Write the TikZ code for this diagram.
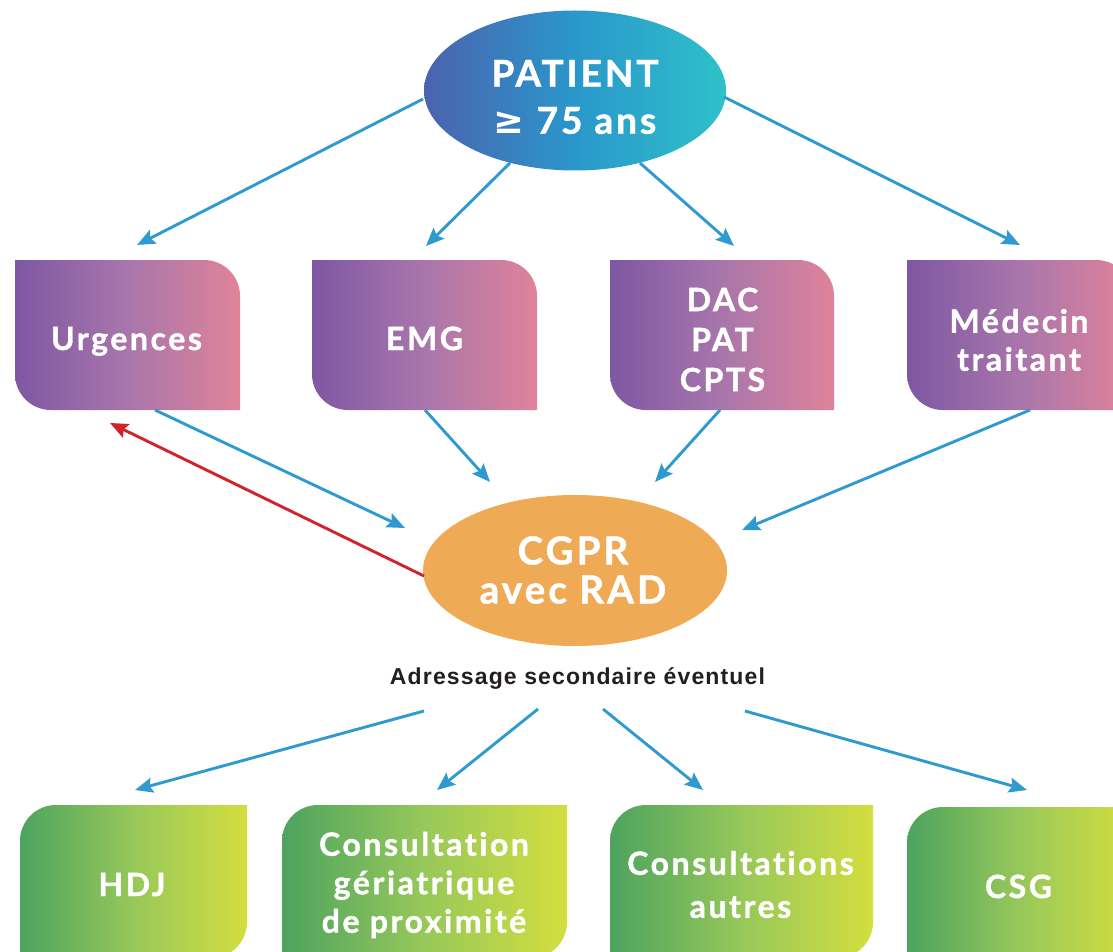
\documentclass[tikz,border=0pt]{standalone}
\usepackage{fontspec}
\setmainfont{Lato}[LetterSpace=8, Ligatures=NoCommon, BoldFeatures={FakeBold=1.2}]
\newfontfamily\helv{Liberation Sans}[LetterSpace=5]
\newfontfamily\symf{DejaVu Sans}
\usetikzlibrary{shapes.geometric,arrows.meta,calc}
\definecolor{pL}{HTML}{7E57A3}
\definecolor{pM}{HTML}{A876AB}
\definecolor{pR}{HTML}{E0839A}
\definecolor{gL}{HTML}{4DA35F}
\definecolor{gM}{HTML}{97C85A}
\definecolor{gR}{HTML}{D3DE3F}
\definecolor{bL}{HTML}{4B62AF}
\definecolor{bM}{HTML}{2A97CB}
\definecolor{bR}{HTML}{2EC1C9}
\definecolor{org}{HTML}{EFAA55}
\definecolor{arrb}{HTML}{2E9AD0}
\definecolor{arrr}{HTML}{D2232A}
\definecolor{txtk}{HTML}{231F20}
\tikzset{
  btxt/.style={text=white, inner sep=0pt, align=center, font=\bfseries\fontsize{32}{40}\selectfont},
  boxn/.style={rectangle, inner sep=0pt, minimum width=#1, minimum height=150pt},
  pgrad/.style={left color=pL, right color=pR, middle color=pM},
  ggrad/.style={left color=gL, right color=gR, middle color=gM},
  pshape/.style n args={4}{insert path={(#1,#2) -- ({#3-36},#2) .. controls ({#3-16},#2) and (#3,{#2+16}) .. (#3,{#2+36}) -- (#3,#4) -- ({#1+36},#4) .. controls ({#1+16},#4) and (#1,{#4-16}) .. (#1,{#4-36}) -- cycle}},
  gshape/.style n args={4}{insert path={(#1,{#2+36}) .. controls (#1,{#2+16}) and ({#1+16},#2) .. ({#1+36},#2) -- (#3,#2) -- (#3,{#4-36}) .. controls (#3,{#4-16}) and ({#3-16},#4) .. ({#3-36},#4) -- (#1,#4) -- cycle}},
  arr/.style={draw=arrb, line width=2.9pt, -{Stealth[length=18pt,width=15pt,inset=3pt]}},
  rarr/.style={arr, draw=arrr},
}
\begin{document}
\begin{tikzpicture}[x=1pt,y=-1pt]
\useasboundingbox (0,0) rectangle (1113,952);
\clip (0,0) rectangle (1113,952);
% top ellipse
\node[ellipse, minimum width=302pt, minimum height=160pt, inner sep=0pt, left color=bL, right color=bR, middle color=bM] (pat) at (575,90.5) {};
\node[btxt, font=\bfseries\fontsize{37}{47}\selectfont] (patt) at (575,97) {PATIENT\\{\symf\bfseries ≥} 75 ans};
% purple boxes
\shade[pgrad, pshape={15}{260}{240}{410}];
\shade[pgrad, pshape={312}{260}{537}{410}];
\shade[pgrad, pshape={610}{260}{834}{410}];
\shade[pgrad, pshape={907}{260}{1132}{410}];
\node[boxn=225pt] (urg) at (127.5,335) {};
\node[boxn=225pt] (emg) at (424.5,335) {};
\node[boxn=224pt] (dac) at (722,335) {};
\node[boxn=225pt] (med) at (1019.5,335) {};
\node[btxt, anchor=base] (urgt) at (126.5,350) {Urgences};
\node[btxt, anchor=base] (emgt) at (424.5,350) {EMG};
\node[btxt] (dact) at (722.5,339.5) {DAC\\PAT\\CPTS};
\node[btxt, font=\bfseries\fontsize{32}{38}\selectfont] (medt) at (1019,340) {Médecin\\traitant};
% CGPR ellipse
\node[ellipse, minimum width=304pt, minimum height=151pt, inner sep=0pt, fill=org] (cgpr) at (575,570.5) {};
\node[btxt, font=\bfseries\fontsize{38.5}{39}\selectfont] (cgprt) at (573,570) {CGPR\\avec RAD};
% secondary label
\node[inner sep=0pt, anchor=base, text=txtk, font=\helv\bfseries\fontsize{23}{26}\selectfont] (adr) at (577.5,684) {Adressage secondaire éventuel};
% green boxes
\shade[ggrad, gshape={20}{805}{247}{958}];
\shade[ggrad, gshape={282}{805}{567}{958}];
\shade[ggrad, gshape={610}{805}{873}{958}];
\shade[ggrad, gshape={907}{807}{1132}{958}];
\node[boxn=227pt] (hdj) at (133.5,881.5) {};
\node[boxn=285pt] (cgp) at (424.5,881.5) {};
\node[boxn=263pt] (cau) at (741.5,881.5) {};
\node[boxn=225pt] (csg) at (1019.5,882.5) {};
\node[btxt, anchor=base] (hdjt) at (132,896) {HDJ};
\node[btxt, font=\bfseries\fontsize{32}{38.5}\selectfont] (cgpt) at (424,885) {Consultation\\gériatrique\\de proximité};
\node[btxt, font=\bfseries\fontsize{32}{43}\selectfont] (caut) at (740.5,884.5) {Consultations\\autres};
\node[btxt, anchor=base] (csgt) at (1018.5,898) {CSG};
% arrows from patient
\draw[arr] ($(pat)+(-152,8.5)$) -- ($(urg)+(9.5,-90)$);
\draw[arr] ($(pat)+(-65,72.5)$) -- ($(emg)+(1.5,-89)$);
\draw[arr] ($(pat)+(65,72.5)$) -- ($(dac)+(12,-89)$);
\draw[arr] ($(pat)+(149,6.5)$) -- ($(med)+(0.5,-90)$);
% arrows to CGPR
\draw[arr] ($(urg)+(27.5,75)$) -- ($(cgpr)+(-170,-42.5)$);
\draw[arr] ($(emg)+(0.5,75)$) -- ($(cgpr)+(-85,-88.5)$);
\draw[arr] ($(dac)+(-2,75)$) -- ($(cgpr)+(80,-88.5)$);
\draw[arr] ($(med)+(10.5,75)$) -- ($(cgpr)+(167,-40.5)$);
\draw[rarr] ($(cgpr)+(-151,5.5)$) -- ($(urg)+(-17.5,88)$);
% secondary arrows
\draw[arr] ($(adr)+(-153.5,33)$) -- ($(hdj)+(1.5,-91.5)$);
\draw[arr] ($(adr)+(-39.5,31)$) -- ($(cgp)+(12.5,-91.5)$);
\draw[arr] ($(adr)+(25.5,31)$) -- ($(cau)+(-38.5,-91.5)$);
\draw[arr] ($(adr)+(167.5,33)$) -- ($(csg)+(7.5,-92.5)$);
\end{tikzpicture}
\end{document}
